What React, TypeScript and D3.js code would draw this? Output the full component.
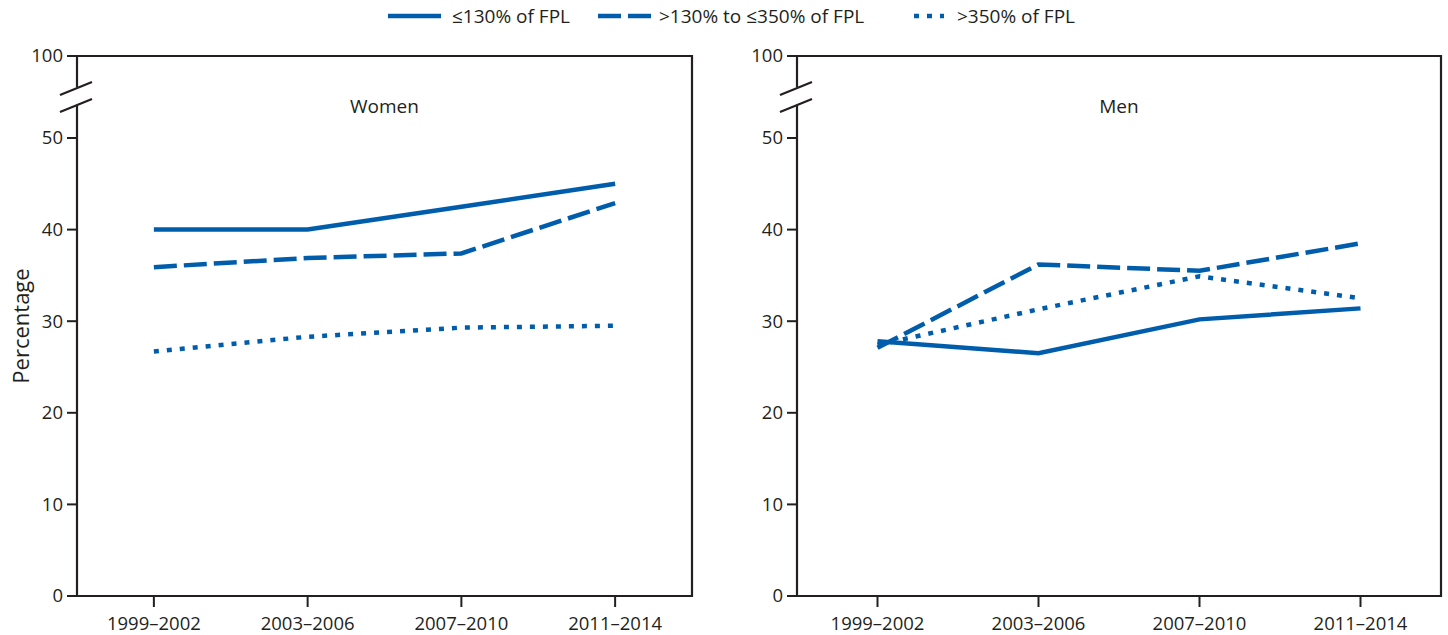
import { useEffect, useRef } from "react";
import * as d3 from "d3";

const periods = ["1999–2002", "2003–2006", "2007–2010", "2011–2014"];
const yTicks = [0, 10, 20, 30, 40, 50];
const seriesNames = ["≤130% of FPL", ">130% to ≤350% of FPL", ">350% of FPL"];
const seriesDash = ["none", "23,7", "5,8"];

const womenLow = [40, 40, 42.5, 45];
const womenMid = [35.9, 36.9, 37.4, 42.9];
const womenHigh = [26.7, 28.3, 29.3, 29.5];

const menLow = [27.8, 26.5, 30.2, 31.4];
const menMid = [27.1, 36.2, 35.5, 38.5];
const menHigh = [27.4, 31.3, 34.9, 32.5];

const BLUE = "#005dab";
const INK = "#231f20";
const FONT = "'Open Sans', sans-serif";

function App() {
  const ref = useRef<SVGSVGElement>(null);

  useEffect(() => {
    const svg = d3.select(ref.current);
    svg.selectAll("*").remove();

    const top = 56;
    const bottom = 596;
    const y = d3.scaleLinear().domain([0, 50]).range([bottom, 138]);

    const panels = [
      { title: "Women", left: 77, right: 692, data: [womenLow, womenMid, womenHigh] },
      { title: "Men", left: 797, right: 1441, data: [menLow, menMid, menHigh] },
    ];

    panels.forEach((p) => {
      const x = d3.scalePoint<string>().domain(periods).range([p.left, p.right]).padding(0.5);
      const g = svg.append("g");

      // frame: top + right + bottom
      g.append("path")
        .attr("d", `M${p.left},${top}H${p.right}V${bottom}H${p.left}`)
        .attr("fill", "none")
        .attr("stroke", INK)
        .attr("stroke-width", 2.2);

      // left axis with break
      g.append("line").attr("x1", p.left).attr("x2", p.left).attr("y1", top).attr("y2", 87)
        .attr("stroke", INK).attr("stroke-width", 2.2);
      g.append("line").attr("x1", p.left).attr("x2", p.left).attr("y1", 105).attr("y2", bottom + 1)
        .attr("stroke", INK).attr("stroke-width", 2.2);
      [0, 17].forEach((dy) => {
        g.append("line")
          .attr("x1", p.left - 17).attr("y1", 95 + dy)
          .attr("x2", p.left + 15).attr("y2", 82 + dy)
          .attr("stroke", INK).attr("stroke-width", 2.2);
      });

      // y ticks
      const yt = g.append("g");
      yTicks.forEach((t) => {
        yt.append("line").attr("x1", p.left - 10).attr("x2", p.left)
          .attr("y1", y(t)).attr("y2", y(t)).attr("stroke", INK).attr("stroke-width", 2);
        yt.append("text").attr("x", p.left - 14).attr("y", y(t)).attr("dy", "0.35em")
          .attr("text-anchor", "end").attr("font-family", FONT).attr("font-size", 18.5)
          .attr("fill", INK).text(t);
      });
      yt.append("line").attr("x1", p.left - 10).attr("x2", p.left)
        .attr("y1", top).attr("y2", top).attr("stroke", INK).attr("stroke-width", 2);
      yt.append("text").attr("x", p.left - 14).attr("y", top).attr("dy", "0.35em")
        .attr("text-anchor", "end").attr("font-family", FONT).attr("font-size", 18.5)
        .attr("fill", INK).text("100");

      // x ticks
      periods.forEach((d) => {
        g.append("line").attr("x1", x(d)!).attr("x2", x(d)!)
          .attr("y1", bottom).attr("y2", bottom + 11).attr("stroke", INK).attr("stroke-width", 2);
        g.append("text").attr("x", x(d)!).attr("y", bottom + 34)
          .attr("text-anchor", "middle").attr("font-family", FONT).attr("font-size", 18.5)
          .attr("fill", INK).text(d);
      });

      g.append("text").attr("x", (p.left + p.right) / 2).attr("y", 113)
        .attr("text-anchor", "middle").attr("font-family", FONT).attr("font-size", 19)
        .attr("fill", INK).text(p.title);

      const line = d3.line<number>()
        .x((_, i) => x(periods[i])!)
        .y((v) => y(v));

      p.data.forEach((vals, i) => {
        g.append("path").datum(vals)
          .attr("d", line)
          .attr("fill", "none")
          .attr("stroke", BLUE)
          .attr("stroke-width", 4.5)
          .attr("stroke-dasharray", seriesDash[i]);
      });
    });

    // y label
    svg.append("text")
      .attr("transform", "translate(29,326) rotate(-90)")
      .attr("text-anchor", "middle").attr("font-family", FONT).attr("font-size", 22)
      .attr("fill", INK).text("Percentage");

    // legend
    const legend = [
      { x1: 388, x2: 441, tx: 452 },
      { x1: 598, x2: 651, tx: 659 },
      { x1: 914, x2: 944, tx: 957 },
    ];
    legend.forEach((l, i) => {
      svg.append("line").attr("x1", l.x1).attr("x2", l.x2).attr("y1", 16).attr("y2", 16)
        .attr("stroke", BLUE).attr("stroke-width", 4.5)
        .attr("stroke-dasharray", i === 1 ? "23,7" : i === 2 ? "5,8" : "none");
      svg.append("text").attr("x", l.tx).attr("y", 16).attr("dy", "0.35em")
        .attr("font-family", FONT).attr("font-size", 19).attr("fill", INK)
        .text(seriesNames[i]);
    });
  }, []);

  return (
    <svg
      ref={ref}
      width={1448}
      height={635}
      style={{ position: "absolute", left: 0, top: 0, background: "#fff" }}
    />
  );
}

export default App;
